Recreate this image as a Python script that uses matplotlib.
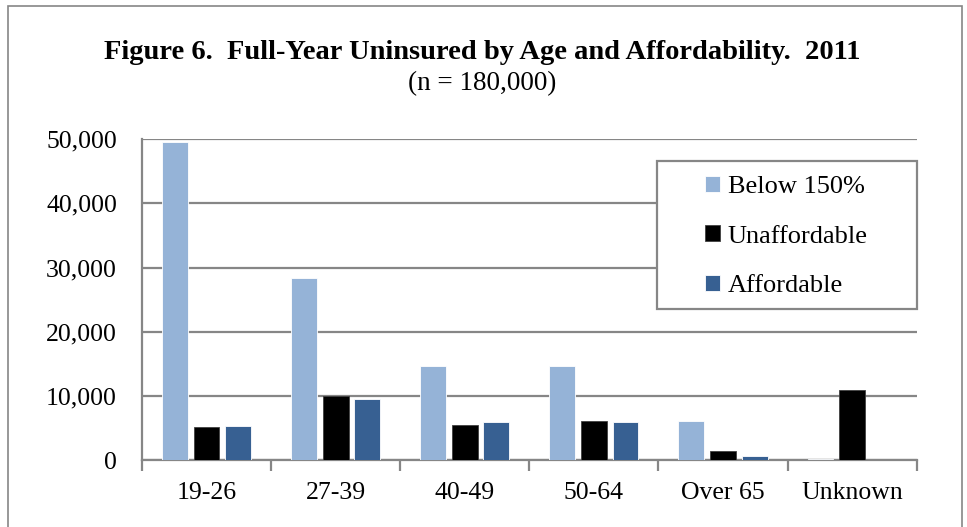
import matplotlib
matplotlib.use("Agg")
import matplotlib.pyplot as plt
import numpy as np
from matplotlib.patches import Rectangle
from matplotlib.ticker import FuncFormatter, MultipleLocator

categories = ["19-26", "27-39", "40-49", "50-64", "Over 65", "Unknown"]
below150 = [49500, 28350, 14650, 14650, 6100, 100]
unaffordable = [5100, 10000, 5450, 6150, 1450, 10900]
affordable = [5300, 9450, 6000, 5900, 560, 0]
series_names = ["Below 150%", "Unaffordable", "Affordable"]
colors = ["#95B3D7", "#000000", "#376092"]

plt.rcParams['font.family'] = ['Liberation Serif', 'DejaVu Serif']

fig = plt.figure(figsize=(9.67, 5.27), dpi=100)
ax = fig.add_axes([0.1468, 0.127, 0.948 - 0.1468, 0.736 - 0.127])

x = np.arange(len(categories))
w = 0.2
off = 0.245
for i, (vals, name, c) in enumerate(zip([below150, unaffordable, affordable], series_names, colors)):
    ax.bar(x + (i - 1) * off, vals, width=w, color=c, label=name,
           edgecolor='white' if i != 1 else '#404040', linewidth=0.6, zorder=3)

ax.set_xlim(-0.5, len(categories) - 0.5)
ax.set_ylim(0, 50000)
ax.yaxis.set_major_locator(MultipleLocator(10000))
ax.yaxis.set_major_formatter(FuncFormatter(lambda v, p: f"{int(v):,}"))
ax.grid(axis='y', color='#868686', linewidth=1.6, zorder=0)
ax.set_axisbelow(True)

for s in ['top', 'right']:
    ax.spines[s].set_visible(False)
ax.spines['left'].set_color('#868686')
ax.spines['left'].set_linewidth(1.6)
ax.spines['bottom'].set_color('#868686')
ax.spines['bottom'].set_linewidth(1.6)

ax.set_xticks(x)
ax.set_xticklabels(categories)
ax.set_xticks(np.arange(-0.5, len(categories) + 0.5, 1), minor=True)
ax.tick_params(axis='x', which='major', length=0, pad=16, labelsize=18.5)
ax.tick_params(axis='x', which='minor', length=8, width=1.6, color='#868686', direction='out')
ax.tick_params(axis='y', which='major', length=0, pad=18, labelsize=18.5)

# legend box (frame drawn separately to match wide horizontal padding)
ax.add_patch(Rectangle((0.6645, 0.470), 0.3365, 0.461, transform=ax.transAxes,
                       facecolor='white', edgecolor='#868686', linewidth=1.6,
                       zorder=4, clip_on=False))
leg = ax.legend(loc='upper left', bbox_to_anchor=(0.727, 0.886), fontsize=19,
                frameon=False, borderpad=0, labelspacing=1.04,
                handlelength=0.55, handleheight=0.55, handletextpad=0.3,
                borderaxespad=0)
leg.set_zorder(5)

fig.text(0.4985, 0.901, "Figure 6.  Full-Year Uninsured by Age and Affordability.  2011",
         ha='center', va='center', fontsize=20.5, fontweight='bold')
fig.text(0.4985, 0.841, "(n = 180,000)", ha='center', va='center', fontsize=19.5)

fig.patches.append(Rectangle((0.008, -0.01), 0.987, 0.998, transform=fig.transFigure,
                             fill=False, edgecolor='#868686', linewidth=1.2))

fig.savefig("out.png", dpi=100)
